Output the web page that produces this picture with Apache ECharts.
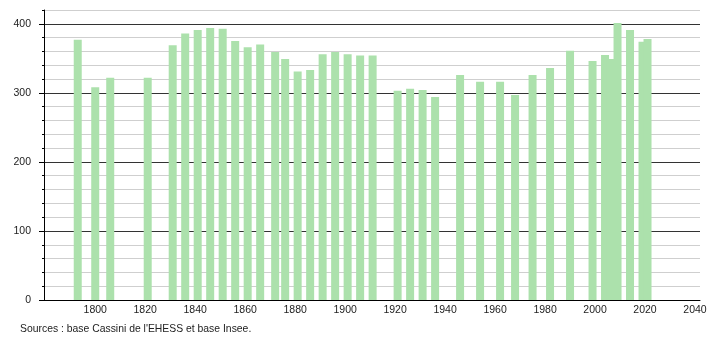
<!DOCTYPE html>
<html>
<head>
<meta charset="utf-8">
<script src="https://cdn.jsdelivr.net/npm/echarts@6/dist/echarts.min.js"></script>
<style>
html,body{margin:0;padding:0;background:#fff;}
#c{width:710px;height:340px;}
</style>
</head>
<body>
<div id="c"></div>
<script>
var years = [1793,1800,1806,1821,1831,1836,1841,1846,1851,1856,1861,1866,1872,1876,1881,1886,1891,1896,1901,1906,1911,1921,1926,1931,1936,1946,1954,1962,1968,1975,1982,1990,1999,2004,2006,2009,2014,2019,2021];
var population = [377,308,322,322,369,386,391,394,393,375,366,370,359,349,331,333,356,359,356,354,354,303,306,304,294,326,316,316,297,326,336,361,346,355,349,401,391,374,378];
var xTickLabels = [1800,1820,1840,1860,1880,1900,1920,1940,1960,1980,2000,2020,2040];
var yTickLabels = [0,100,200,300,400];
var sourceText = "Sources : base Cassini de l'EHESS et base Insee.";

var data = years.map(function(y,i){return [y, population[i]];});
var chart = echarts.init(document.getElementById('c'), null, {renderer:'canvas'});
var font = '"Liberation Sans", Arial, sans-serif';
chart.setOption({
  animation:false,
  backgroundColor:'#fff',
  grid:{left:44,right:10,top:10,bottom:40},
  xAxis:{
    type:'value', min:1779.5, max:2042,
    axisLine:{show:true,onZero:false,lineStyle:{color:'#000',width:1}},
    axisTick:{show:false},
    splitLine:{show:false},
    axisLabel:{customValues:xTickLabels,margin:5,color:'#222',fontSize:10.5,fontFamily:font,
      formatter:function(v){return String(Math.round(v));}}
  },
  yAxis:[{
    type:'value', min:0, max:420, interval:20,
    axisLine:{show:true,lineStyle:{color:'#000',width:1}},
    axisTick:{show:true,length:2,lineStyle:{color:'#000'}},
    axisLabel:{show:false},
    splitLine:{show:true,lineStyle:{color:['#333','#cfcfcf','#cfcfcf','#cfcfcf','#cfcfcf'],width:1}}
  },{
    type:'value', min:0, max:420, position:'left',
    axisLine:{show:false},
    axisTick:{show:true,length:5,customValues:yTickLabels,lineStyle:{color:'#000'}},
    axisLabel:{customValues:yTickLabels,margin:13,color:'#222',fontSize:10.5,fontFamily:font,
      formatter:function(v){return String(Math.round(v));}},
    splitLine:{show:false}
  }],
  series:[{
    type:'bar', data:data, barWidth:8, yAxisIndex:0,
    itemStyle:{color:'#ace1ac'}
  }],
  graphic:[{
    type:'text', left:20, top:324,
    style:{text:sourceText, fill:'#222', font:'10.4px '+font}
  }]
});
</script>
</body>
</html>
